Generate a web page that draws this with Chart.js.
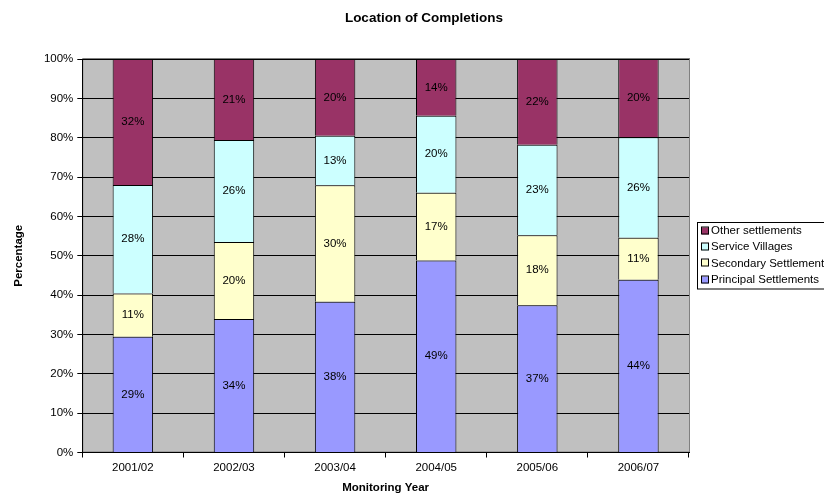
<!DOCTYPE html>
<html>
<head>
<meta charset="utf-8">
<title>Location of Completions</title>
<script src="https://cdn.jsdelivr.net/npm/chart.js@4.4.0/dist/chart.umd.min.js"></script>
<style>
    html, body { margin: 0; padding: 0; background: #fff; }
    #wrap { width: 824px; height: 496px; overflow: hidden; }
    #wrap canvas { display: block; }
</style>
</head>
<body>
<div id="wrap"><canvas id="completionsChart" width="852" height="496" style="width:852px;height:496px"></canvas></div>
<script>
const years = ['2001/02', '2002/03', '2003/04', '2004/05', '2005/06', '2006/07'];
const principalSettlements = [29.4, 33.9, 38.3, 48.8, 37.4, 43.9];
const secondarySettlements = [11.0, 19.6, 29.6, 17.2, 17.8, 10.7];
const serviceVillages = [27.6, 25.9, 12.6, 19.6, 23.0, 25.5];
const otherSettlements = [32.0, 20.6, 19.5, 14.4, 21.8, 19.9];
const percentTicks = [0, 10, 20, 30, 40, 50, 60, 70, 80, 90, 100];
const chartTitle = 'Location of Completions';

const FONT = 'Arial, "Liberation Sans", sans-serif';

// grey plot area with a thin darker frame
const plotBackground = {
    id: 'plotBackground',
    beforeDraw(chart) {
        const { ctx, chartArea: a } = chart;
        ctx.save();
        ctx.fillStyle = '#c0c0c0';
        ctx.fillRect(a.left, a.top, a.right - a.left, a.bottom - a.top);
        ctx.strokeStyle = '#808080';
        ctx.lineWidth = 1;
        ctx.strokeRect(a.left + 0.5, a.top - 0.5, a.right - a.left, a.bottom - a.top);
        ctx.restore();
    }
};

// title sits over the whole chart (legend included), not just the plot
const centredTitle = {
    id: 'centredTitle',
    afterDraw(chart) {
        const { ctx } = chart;
        ctx.save();
        ctx.font = 'bold 13.5px ' + FONT;
        ctx.fillStyle = '#000';
        ctx.textAlign = 'center';
        ctx.textBaseline = 'middle';
        ctx.fillText(chartTitle, 424, 18);
        ctx.restore();
    }
};

// percentage written in the middle of each stacked segment
const segmentLabels = {
    id: 'segmentLabels',
    afterDatasetsDraw(chart) {
        const { ctx } = chart;
        ctx.save();
        ctx.font = '11.5px ' + FONT;
        ctx.fillStyle = '#000';
        ctx.textAlign = 'center';
        ctx.textBaseline = 'middle';
        chart.data.datasets.forEach((ds, i) => {
            chart.getDatasetMeta(i).data.forEach((bar, j) => {
                const y = (bar.y + bar.base) / 2;
                ctx.fillText(Math.round(ds.data[j]) + '%', bar.x, y);
            });
        });
        ctx.restore();
    }
};

// boxed legend, top series first
const boxLegend = {
    id: 'boxLegend',
    afterDraw(chart) {
        const { ctx } = chart;
        const left = 697.5, top = 222.5, rowH = 16.2;
        const items = chart.data.datasets.slice().reverse();
        ctx.save();
        ctx.fillStyle = '#fff';
        ctx.fillRect(left, top, 150, 66.5);
        ctx.strokeStyle = '#000';
        ctx.lineWidth = 1;
        ctx.strokeRect(left, top, 150, 66.5);
        ctx.font = '11.5px ' + FONT;
        ctx.textBaseline = 'middle';
        items.forEach((ds, i) => {
            const cy = top + 8.5 + i * rowH;
            ctx.fillStyle = ds.backgroundColor;
            ctx.fillRect(702, Math.round(cy) - 3.5, 7, 7);
            ctx.strokeStyle = '#000';
            ctx.strokeRect(702 - 0.5, Math.round(cy) - 3.5 - 0.5, 7, 7);
            ctx.fillStyle = '#000';
            ctx.fillText(ds.label, 711, cy);
        });
        ctx.restore();
    }
};

function series(label, data, colour) {
    return {
        label: label,
        data: data,
        backgroundColor: colour,
        borderColor: '#000',
        borderWidth: 1,
        borderSkipped: 'start'
    };
}

new Chart(document.getElementById('completionsChart'), {
    type: 'bar',
    data: {
        labels: years,
        datasets: [
            series('Principal Settlements', principalSettlements, '#9999ff'),
            series('Secondary Settlements', secondarySettlements, '#ffffcc'),
            series('Service Villages', serviceVillages, '#ccffff'),
            series('Other settlements', otherSettlements, '#993366')
        ]
    },
    options: {
        responsive: false,
        animation: false,
        devicePixelRatio: 1,
        layout: { padding: { top: 59, right: 163, bottom: 0, left: 0 } },
        datasets: { bar: { categoryPercentage: 1, barPercentage: 0.4 } },
        plugins: {
            legend: { display: false },
            tooltip: { enabled: false },
            title: { display: false }
        },
        scales: {
            x: {
                stacked: true,
                grid: {
                    offset: true,
                    drawOnChartArea: false,
                    drawTicks: true,
                    tickLength: 5,
                    color: '#000'
                },
                border: { color: '#000', width: 1 },
                ticks: { color: '#000', padding: 3, font: { family: FONT, size: 11.5 } },
                title: {
                    display: true,
                    text: 'Monitoring Year',
                    color: '#000',
                    font: { family: FONT, size: 11.5, weight: 'bold' },
                    padding: { top: 0, bottom: 1.5 }
                },
                afterFit(scale) { scale.height = 43.5; }
            },
            y: {
                stacked: true,
                min: 0,
                max: 100,
                afterBuildTicks(scale) {
                    scale.ticks = percentTicks.map(v => ({ value: v }));
                },
                grid: { color: '#000', tickLength: 5, drawTicks: true },
                border: { color: '#000', width: 1 },
                ticks: {
                    color: '#000',
                    padding: 4,
                    font: { family: FONT, size: 11.5 },
                    callback: v => v + '%'
                },
                title: {
                    display: true,
                    text: 'Percentage',
                    color: '#000',
                    font: { family: FONT, size: 11.5, weight: 'bold' },
                    padding: { top: 12.4, bottom: 0 }
                },
                afterFit(scale) { scale.width = 82.3; }
            }
        }
    },
    plugins: [plotBackground, segmentLabels, boxLegend, centredTitle]
});
</script>
</body>
</html>
